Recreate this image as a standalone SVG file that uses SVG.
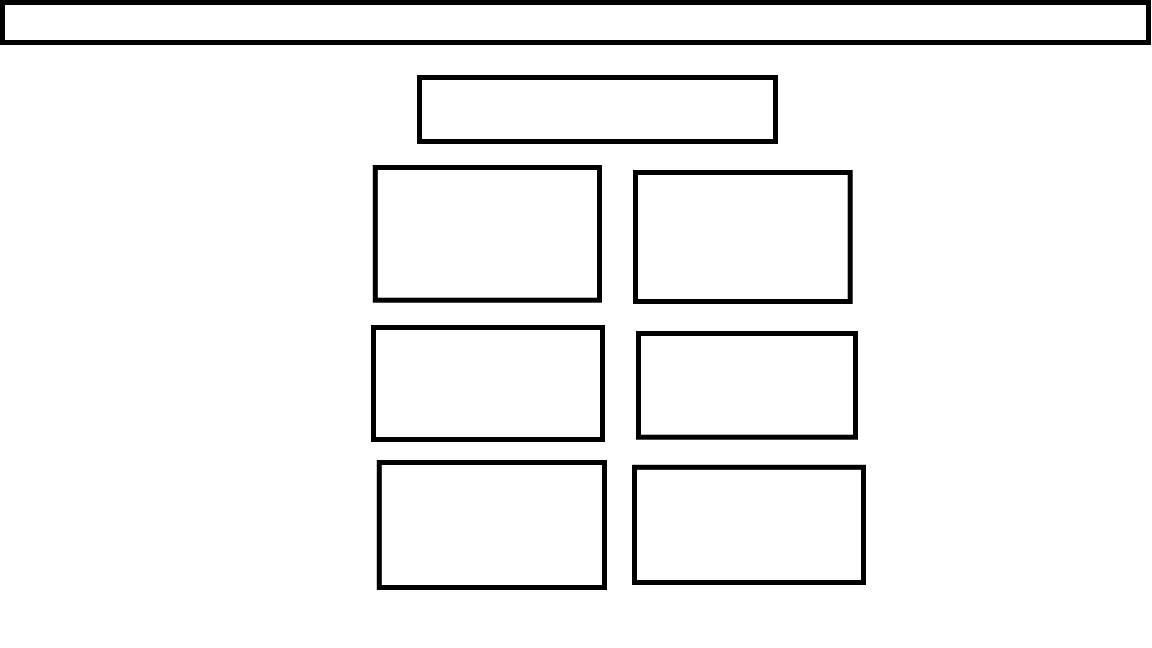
<svg xmlns="http://www.w3.org/2000/svg" width="1152" height="648" viewBox="0 0 1152 648">
<style>
.box{fill:#ffffff;stroke:#000000;stroke-width:5;stroke-linejoin:miter}
</style>
<rect x="0" y="0" width="1152" height="648" fill="#ffffff"/>
<g id="banner"><rect class="box" x="2.5" y="2.5" width="1146" height="40"/></g>
<g id="header"><rect class="box" x="419.5" y="77.5" width="356" height="64"/></g>
<g id="box-r1-left"><rect class="box" x="375.3" y="167.5" width="224.2" height="132.7"/></g>
<g id="box-r1-right"><rect class="box" x="635.5" y="172.5" width="214.7" height="129"/></g>
<g id="box-r2-left"><rect class="box" x="373.5" y="327.5" width="229" height="112"/></g>
<g id="box-r2-right"><rect class="box" x="638.5" y="333.5" width="217" height="103.7"/></g>
<g id="box-r3-left"><rect class="box" x="379.3" y="462.5" width="225.2" height="125"/></g>
<g id="box-r3-right"><rect class="box" x="634.5" y="467.3" width="229" height="115.2"/></g>
<g id="connectors"></g>
</svg>
